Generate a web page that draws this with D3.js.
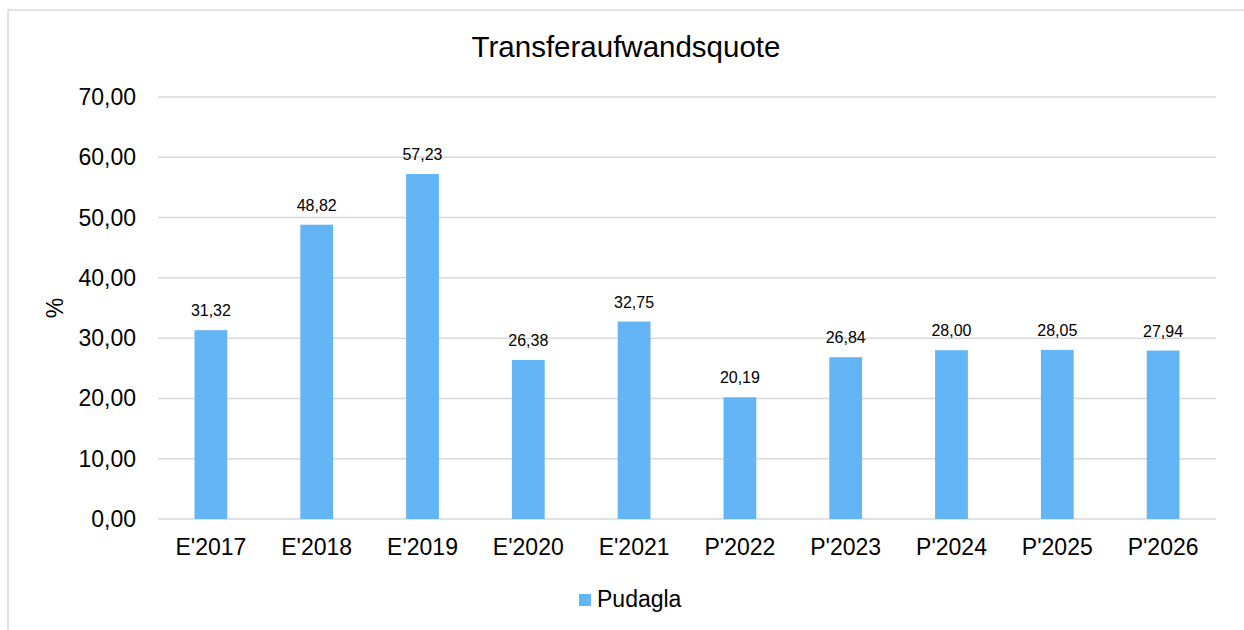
<!DOCTYPE html>
<html>
<head>
<meta charset="utf-8">
<script src="https://cdn.jsdelivr.net/npm/d3@7"></script>
<style>
  body { margin: 0; background: #fff; }
  text { font-family: "Liberation Sans", Arial, sans-serif; fill: #000; }
</style>
</head>
<body>
<div id="chart"></div>
<script>
var categories = ["E'2017", "E'2018", "E'2019", "E'2020", "E'2021", "P'2022", "P'2023", "P'2024", "P'2025", "P'2026"];
var values = [31.32, 48.82, 57.23, 26.38, 32.75, 20.19, 26.84, 28.00, 28.05, 27.94];
var yTicks = [0, 10, 20, 30, 40, 50, 60, 70];
var seriesName = "Pudagla";
var title = "Transferaufwandsquote";

var width = 1244, height = 630;
var plotLeft = 158, plotRight = 1216, plotTop = 97, plotBottom = 519;
var barColor = "#64b5f6";

var fmt = function (v) { return v.toFixed(2).replace(".", ","); };

var svg = d3.select("#chart").append("svg")
    .attr("width", width)
    .attr("height", height);

// outer frame (only left and top edges show inside the window)
svg.append("rect")
    .attr("x", 8).attr("y", 10)
    .attr("width", width + 20).attr("height", height + 20)
    .attr("fill", "none")
    .attr("stroke", "#d9d9d9")
    .attr("stroke-width", 1.5);

var x = d3.scaleBand().domain(categories).range([plotLeft, plotRight]).paddingInner(0.69).paddingOuter(0.345);
var y = d3.scaleLinear().domain([0, 70]).range([plotBottom, plotTop]);

// gridlines
svg.append("g").selectAll("line")
    .data(yTicks).enter()
    .append("line")
    .attr("x1", plotLeft).attr("x2", plotRight)
    .attr("y1", function (d) { return y(d); })
    .attr("y2", function (d) { return y(d); })
    .attr("stroke", "#d9d9d9")
    .attr("stroke-width", 1.5);

// y tick labels
svg.append("g").selectAll("text")
    .data(yTicks).enter()
    .append("text")
    .attr("x", 136)
    .attr("y", function (d) { return y(d); })
    .attr("dy", "0.35em")
    .attr("text-anchor", "end")
    .attr("font-size", "23px")
    .text(fmt);

// bars
svg.append("g").selectAll("rect")
    .data(values).enter()
    .append("rect")
    .attr("x", function (d, i) { return x(categories[i]); })
    .attr("y", function (d) { return y(d); })
    .attr("width", x.bandwidth())
    .attr("height", function (d) { return y(0) - y(d); })
    .attr("fill", barColor);

// value labels
svg.append("g").selectAll("text")
    .data(values).enter()
    .append("text")
    .attr("x", function (d, i) { return x(categories[i]) + x.bandwidth() / 2; })
    .attr("y", function (d) { return y(d) - 14; })
    .attr("text-anchor", "middle")
    .attr("font-size", "16px")
    .text(fmt);

// x labels
svg.append("g").selectAll("text")
    .data(categories).enter()
    .append("text")
    .attr("x", function (d) { return x(d) + x.bandwidth() / 2; })
    .attr("y", 555)
    .attr("text-anchor", "middle")
    .attr("font-size", "23px")
    .text(function (d) { return d; });

// title
svg.append("text")
    .attr("x", 626).attr("y", 57)
    .attr("text-anchor", "middle")
    .attr("font-size", "29.5px")
    .text(title);

// y axis label
svg.append("text")
    .attr("transform", "translate(63,308) rotate(-90)")
    .attr("text-anchor", "middle")
    .attr("font-size", "23px")
    .text("%");

// legend
svg.append("rect")
    .attr("x", 579).attr("y", 594)
    .attr("width", 12).attr("height", 12)
    .attr("fill", barColor);
svg.append("text")
    .attr("x", 597).attr("y", 607)
    .attr("font-size", "23px")
    .text(seriesName);
</script>
</body>
</html>
